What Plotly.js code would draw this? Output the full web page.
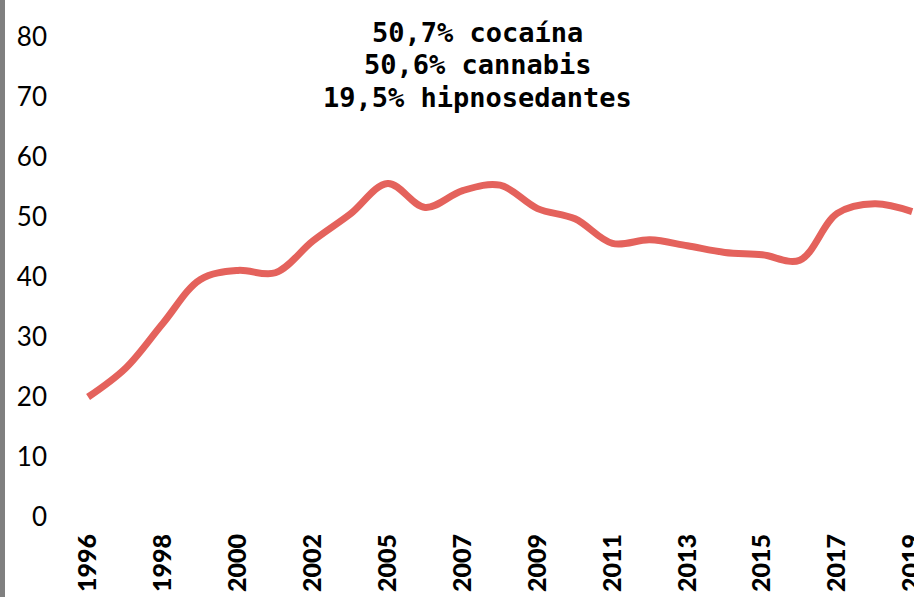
<!DOCTYPE html>
<html>
<head>
<meta charset="utf-8">
<script src="https://cdn.plot.ly/plotly-3.0.1.min.js"></script>
<style>
  html, body { margin: 0; padding: 0; background: #fff; }
  #plot { width: 914px; height: 597px; }
</style>
</head>
<body>
<div id="plot"></div>
<script>
// years on the category axis (no 2004 in the series)
var years = ['1996', '1997', '1998', '1999', '2000', '2001', '2002', '2003',
             '2005', '2006', '2007', '2008', '2009', '2010', '2011', '2012',
             '2013', '2014', '2015', '2016', '2017', '2018', '2019'];
var values = [20.0, 24.8, 32.3, 39.6, 41.1, 40.7, 46.0, 50.5,
              55.6, 51.6, 54.4, 55.3, 51.4, 49.7, 45.6, 46.2,
              45.2, 44.1, 43.7, 42.8, 50.6, 52.2, 50.9];
var tickYears = ['1996', '1998', '2000', '2002', '2005', '2007', '2009',
                 '2011', '2013', '2015', '2017', '2019'];
var notes = ['50,7% cocaína', '50,6% cannabis', '19,5% hipnosedantes'];
var noteY = [1.010, 0.942, 0.873];

var trace1 = {
    x: years,
    y: values,
    type: 'scatter',
    mode: 'lines',
    line: { color: '#e4625c', width: 7, shape: 'spline', smoothing: 1 },
    hoverinfo: 'skip'
};

var annotations = notes.map(function (t, i) {
    return {
        text: t,
        xref: 'paper', yref: 'paper',
        x: 0.4965, y: noteY[i],
        xanchor: 'center', yanchor: 'middle',
        showarrow: false,
        font: { family: 'DejaVu Sans Mono', size: 27, color: '#000', weight: 'bold' }
    };
});

var layout = {
    width: 914,
    height: 597,
    margin: { l: 48, r: 0, t: 37, b: 80 },
    paper_bgcolor: '#fff',
    plot_bgcolor: '#fff',
    showlegend: false,
    xaxis: {
        type: 'category',
        range: [-1.07, 22.05],
        tickmode: 'array',
        tickvals: tickYears,
        ticktext: tickYears,
        tickangle: -90,
        showgrid: false,
        showline: false,
        zeroline: false,
        ticks: '',
        ticklabelstandoff: 11,
        tickfont: { family: 'Lato', size: 25, color: '#000', weight: 900 }
    },
    yaxis: {
        range: [0, 80],
        dtick: 10,
        showgrid: false,
        showline: false,
        zeroline: false,
        ticks: '',
        tickfont: { family: 'Lato', size: 26, color: '#000' }
    },
    annotations: annotations,
    shapes: [{
        type: 'rect', xref: 'paper', yref: 'paper',
        x0: -48 / 866, x1: -43 / 866, y0: -80 / 480, y1: 1 + 37 / 480,
        line: { width: 0 }, fillcolor: '#808080'
    }]
};

Plotly.newPlot('plot', [trace1], layout, { displayModeBar: false, staticPlot: true });
</script>
</body>
</html>
